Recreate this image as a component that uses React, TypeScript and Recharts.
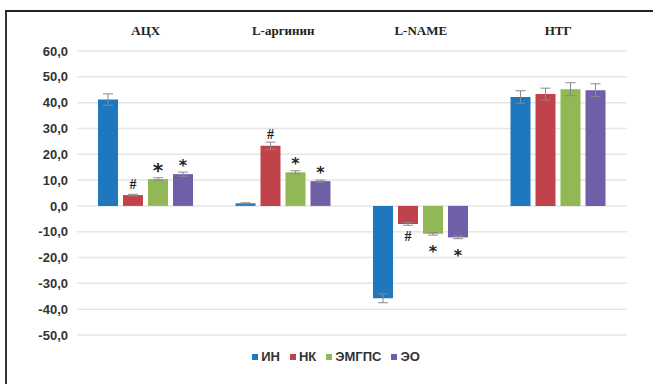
import React from 'react';
import { Bar, BarChart, CartesianGrid, ErrorBar, LabelList, XAxis, YAxis } from 'recharts';

const categories = ['АЦХ', 'L-аргинин', 'L-NAME', 'НТГ'];

const inValues = [41.2, 1.0, -35.8, 42.2];
const nkValues = [4.2, 23.3, -7.0, 43.3];
const emgpsValues = [10.4, 13.0, -10.8, 45.2];
const eoValues = [12.3, 9.6, -12.2, 44.8];

const inErrors = [2.2, 0.2, 1.7, 2.4];
const nkErrors = [0.3, 1.4, 0.5, 2.3];
const emgpsErrors = [0.5, 0.6, 0.5, 2.5];
const eoErrors = [0.8, 0.4, 0.5, 2.5];

const inMarks = ['', '', '', ''];
const nkMarks = ['#', '#', '#', ''];
const emgpsMarks = ['*', '*', '*', ''];
const eoMarks = ['*', '*', '*', ''];

const yTicks = [-50, -40, -30, -20, -10, 0, 10, 20, 30, 40, 50, 60];

const series = [
  { key: 'in', name: 'ИН', color: '#1f78bd', values: inValues, errors: inErrors, marks: inMarks },
  { key: 'nk', name: 'НК', color: '#c0434b', values: nkValues, errors: nkErrors, marks: nkMarks },
  { key: 'emgps', name: 'ЭМГПС', color: '#91b854', values: emgpsValues, errors: emgpsErrors, marks: emgpsMarks },
  { key: 'eo', name: 'ЭО', color: '#6f5fa7', values: eoValues, errors: eoErrors, marks: eoMarks },
];

const data = categories.map((name, i) => {
  const row: any = { name };
  series.forEach((s) => {
    row[s.key] = s.values[i];
    row[s.key + 'Err'] = s.errors[i];
  });
  return row;
});

const formatTick = (v: number) => v.toFixed(1).replace('.', ',');

const makeMark = (marks: string[], values: number[]) => (props: any) => {
  const { x, y, width, height, index } = props;
  const mark = marks[index];
  if (!mark) return null;
  const top = Math.min(y, y + height);
  const bottom = Math.max(y, y + height);
  const neg = values[index] < 0;
  const isStar = mark === '*';
  const big = isStar && index === 0 && marks === emgpsMarks;
  const ty = neg ? bottom + 13 + (isStar ? 5 : 0) : top - 11 + (isStar ? 2 : 0);
  return (
    <text
      x={x + width / 2}
      y={ty}
      textAnchor="middle"
      dominantBaseline="central"
      fontFamily={isStar ? 'DejaVu Sans' : 'Liberation Serif'}
      fontWeight="bold"
      fontSize={isStar ? (big ? 20 : 16) : 14}
      fill="#222"
    >
      {mark}
    </text>
  );
};

const LegendBox = () => (
  <div
    style={{
      position: 'absolute',
      left: 0,
      top: 349,
      width: 672,
      display: 'flex',
      justifyContent: 'center',
      gap: 10,
      fontFamily: 'Liberation Sans',
      fontWeight: 'bold',
      fontSize: 13,
      color: '#333',
    }}
  >
    {series.map((s) => (
      <div key={s.key} style={{ display: 'flex', alignItems: 'center', gap: 3 }}>
        <span style={{ width: 6, height: 6, background: s.color, display: 'inline-block' }} />
        <span>{s.name}</span>
      </div>
    ))}
  </div>
);

export default function App() {
  return (
    <div style={{ position: 'absolute', left: 0, top: 0, width: 653, height: 384, overflow: 'hidden', background: '#fff' }}>
      <div style={{ position: 'absolute', left: 5, top: 10, width: 700, height: 400, borderTop: '2px solid #222', borderLeft: '2px solid #333' }} />
      <div style={{ position: 'absolute', left: 0, top: 0 }}>
        <BarChart
          width={653}
          height={384}
          data={data}
          margin={{ top: 20, right: 26, left: 0, bottom: 49 }}
          barSize={20}
          barGap={5}
        >
          <CartesianGrid vertical={false} stroke="#e6e6e6" strokeWidth={1.5} />
          <XAxis
            dataKey="name"
            orientation="top"
            height={31}
            axisLine={false}
            tickLine={false}
            tickMargin={10}
            tick={{ fontFamily: 'Liberation Serif', fontWeight: 'bold', fontSize: 13, fill: '#222' }}
          />
          <YAxis
            width={77}
            domain={[-50, 60]}
            ticks={yTicks}
            interval={0}
            axisLine={false}
            tickLine={false}
            tickMargin={3}
            tickFormatter={formatTick}
            tick={{ fontFamily: 'Liberation Sans', fontWeight: 'bold', fontSize: 13, fill: '#333' }}
          />
          {series.map((s) => (
            <Bar key={s.key} dataKey={s.key} name={s.name} fill={s.color} isAnimationActive={false}>
              <ErrorBar dataKey={s.key + 'Err'} width={5} stroke="#8a8a8a" strokeWidth={1} />
              <LabelList dataKey={s.key} content={makeMark(s.marks, s.values)} />
            </Bar>
          ))}
        </BarChart>
      </div>
      <LegendBox />
    </div>
  );
}
